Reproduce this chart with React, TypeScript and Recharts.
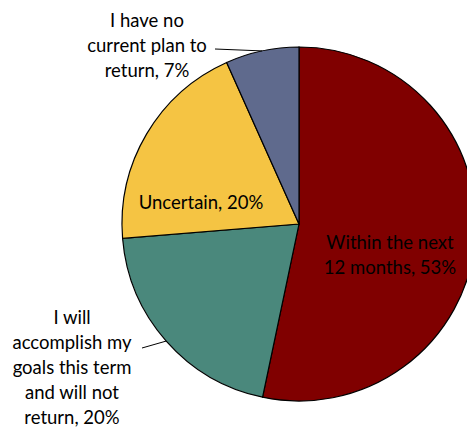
import React from "react";
import { PieChart, Pie, Cell } from "recharts";

const categories = [
  "Within the next 12 months",
  "I will accomplish my goals this term and will not return",
  "Uncertain",
  "I have no current plan to return",
];
const values = [53.3, 20.4, 19.6, 6.7];
const labelLines = [
  ["Within the next", "12 months, 53%"],
  ["I will", "accomplish my", "goals this term", "and will not", "return, 20%"],
  ["Uncertain, 20%"],
  ["I have no", "current plan to", "return, 7%"],
];
const colors = ["#800000", "#4A887C", "#F5C443", "#5F6A8D"];

const data = categories.map((name, i) => ({ name, value: values[i] }));

// label placement (relative to pie centre, in px) – styling only
const placement = [
  { dx: 91, dy: 18, leader: null },
  { dx: -227, dy: 93, leader: { x: -157, y: 124 } },
  { dx: -98, dy: -22, leader: null },
  { dx: -152, dy: -204, leader: { x: -84, y: -175 } },
];

const RAD = Math.PI / 180;
const FONT = "Lato, 'Open Sans', sans-serif";

const renderLabel = (props: any) => {
  const { cx, cy, midAngle, outerRadius, index } = props;
  const p = placement[index];
  const lines = labelLines[index];
  const lh = 25;
  const ex = cx + outerRadius * Math.cos(-midAngle * RAD);
  const ey = cy + outerRadius * Math.sin(-midAngle * RAD);
  return (
    <g key={"lbl" + index}>
      {p.leader && (
        <line
          x1={cx + p.leader.x}
          y1={cy + p.leader.y}
          x2={ex}
          y2={ey}
          stroke="#000"
          strokeWidth={1}
        />
      )}
      <text
        x={cx + p.dx}
        y={cy + p.dy}
        textAnchor="middle"
        fill="#000"
        fontSize={18.5}
        fontFamily={FONT}
      >
        {lines.map((l, k) => (
          <tspan key={k} x={cx + p.dx} y={cy + p.dy + k * lh} dominantBaseline="central">
            {l}
          </tspan>
        ))}
      </text>
    </g>
  );
};

export default function App() {
  return (
    <div style={{ position: "absolute", left: 0, top: 0, background: "#fff" }}>
      <PieChart width={467} height={428} margin={{ top: 0, right: 0, bottom: 0, left: 0 }}>
        <Pie
          data={data}
          dataKey="value"
          nameKey="name"
          cx={299}
          cy={224}
          outerRadius={177}
          startAngle={90}
          endAngle={-270}
          stroke="#000"
          strokeWidth={1.2}
          label={renderLabel}
          labelLine={false}
          isAnimationActive={false}
        >
          {data.map((d, i) => (
            <Cell key={d.name} fill={colors[i]} />
          ))}
        </Pie>
      </PieChart>
    </div>
  );
}
